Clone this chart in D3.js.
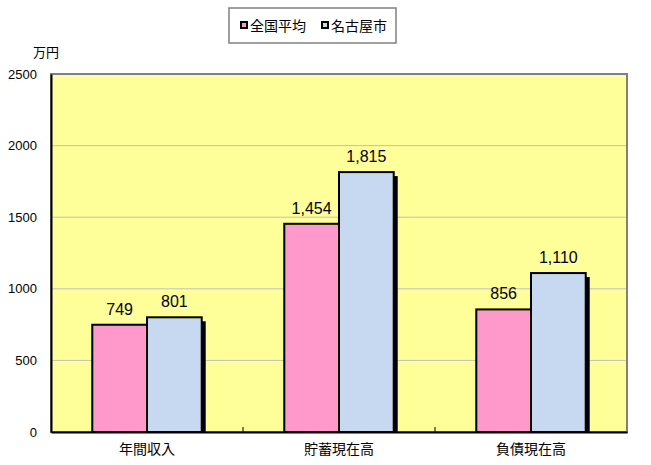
<!DOCTYPE html>
<html><head><meta charset="utf-8">
<script src="https://cdn.jsdelivr.net/npm/d3@7"></script>
<style>body{margin:0;background:#fff}svg{display:block}</style>
</head><body>
<svg id="c" width="651" height="465"></svg>
<script>
const categories = ["年間収入", "貯蓄現在高", "負債現在高"];
const seriesNames = ["全国平均", "名古屋市"];
const nationalValues = [749, 1454, 856];
const nagoyaValues = [801, 1815, 1110];
const yTicks = [0, 500, 1000, 1500, 2000, 2500];
const colors = ["#FF99CC", "#C6D9F0"];

const svg = d3.select("#c");
const L = 51, R = 627, T = 74, B = 432;
const FONT = "'Liberation Sans', 'Noto Sans CJK JP', sans-serif";
const JFONT = "'Noto Sans CJK JP', sans-serif";

const x0 = d3.scaleBand().domain(categories).range([L, R]).paddingInner(0.43).paddingOuter(0.215);
const x1 = d3.scaleBand().domain(seriesNames).range([0, x0.bandwidth()]);
const y = d3.scaleLinear().domain([0, 2500]).range([B, T]);

// plot background
svg.append("rect").attr("x", L).attr("y", T).attr("width", R - L).attr("height", B - T).attr("fill", "#FFFF99");
// gridlines
svg.append("g").selectAll("line").data(yTicks.filter(d => d > 0 && d < 2500)).join("line")
  .attr("x1", L).attr("x2", R).attr("y1", d => y(d)).attr("y2", d => y(d))
  .attr("stroke", "#C0C0C0").attr("stroke-width", 1);
// border
svg.append("rect").attr("x", L).attr("y", T).attr("width", R - L).attr("height", B - T)
  .attr("fill", "none").attr("stroke", "#808080").attr("stroke-width", 2);

const data = categories.map((c, i) => ({ c, vals: [nationalValues[i], nagoyaValues[i]] }));

const groups = svg.append("g").selectAll("g").data(data).join("g")
  .attr("transform", d => `translate(${x0(d.c)},0)`);

// shadows
groups.selectAll("rect.sh").data(d => d.vals.map((v, i) => ({ v, s: seriesNames[i], i }))).join("rect")
  .attr("class", "sh")
  .attr("x", d => x1(d.s) + 4).attr("y", d => y(d.v) + 4)
  .attr("width", x1.bandwidth()).attr("height", d => B - y(d.v) - 4)
  .attr("fill", "#000");
// bars
groups.selectAll("rect.bar").data(d => d.vals.map((v, i) => ({ v, s: seriesNames[i], i }))).join("rect")
  .attr("class", "bar")
  .attr("x", d => x1(d.s)).attr("y", d => y(d.v))
  .attr("width", x1.bandwidth()).attr("height", d => B - y(d.v))
  .attr("fill", d => colors[d.i]).attr("stroke", "#000").attr("stroke-width", 2);
// value labels
groups.selectAll("text").data(d => d.vals.map((v, i) => ({ v, s: seriesNames[i], i }))).join("text")
  .attr("x", d => x1(d.s) + x1.bandwidth() / 2).attr("y", d => y(d.v) - 10)
  .attr("text-anchor", "middle").attr("font-family", FONT).attr("font-size", 16)
  .text(d => d3.format(",")(d.v));

// axes
const yAxis = svg.append("g").attr("transform", `translate(${L},0)`)
  .call(d3.axisLeft(y).tickValues(yTicks).tickSize(0).tickPadding(14).tickFormat(d3.format("d")));
yAxis.select(".domain").attr("stroke", "#000").attr("stroke-width", 2);
yAxis.selectAll("text").attr("font-family", FONT).attr("font-size", 13).attr("fill", "#000");

const xAxis = svg.append("g").attr("transform", `translate(0,${B})`)
  .call(d3.axisBottom(x0).tickSize(0).tickPadding(12));
xAxis.select(".domain").attr("stroke", "#000").attr("stroke-width", 2);
xAxis.selectAll("text").attr("font-family", JFONT).attr("font-size", 14).attr("fill", "#000");
// category boundary ticks
const step = x0.step();
svg.append("g").selectAll("line").data(categories.slice(1)).join("line")
  .attr("x1", d => x0(d) - x0.paddingInner() * step / 2).attr("x2", d => x0(d) - x0.paddingInner() * step / 2)
  .attr("y1", B).attr("y2", B - 5).attr("stroke", "#000").attr("stroke-width", 1);

// unit label
svg.append("text").attr("x", 33).attr("y", 57).attr("font-family", JFONT).attr("font-size", 13).text("万円");

// legend
const lg = svg.append("g");
lg.append("rect").attr("x", 229).attr("y", 8).attr("width", 167).attr("height", 35)
  .attr("fill", "#fff").attr("stroke", "#808080").attr("stroke-width", 1.5);
const lx = [241, 322];
seriesNames.forEach((s, i) => {
  lg.append("rect").attr("x", lx[i]).attr("y", 22).attr("width", 6).attr("height", 6)
    .attr("fill", colors[i]).attr("stroke", "#000").attr("stroke-width", 2);
  lg.append("text").attr("x", lx[i] + 9).attr("y", 31).attr("font-family", JFONT).attr("font-size", 14).text(s);
});
</script>
</body></html>
